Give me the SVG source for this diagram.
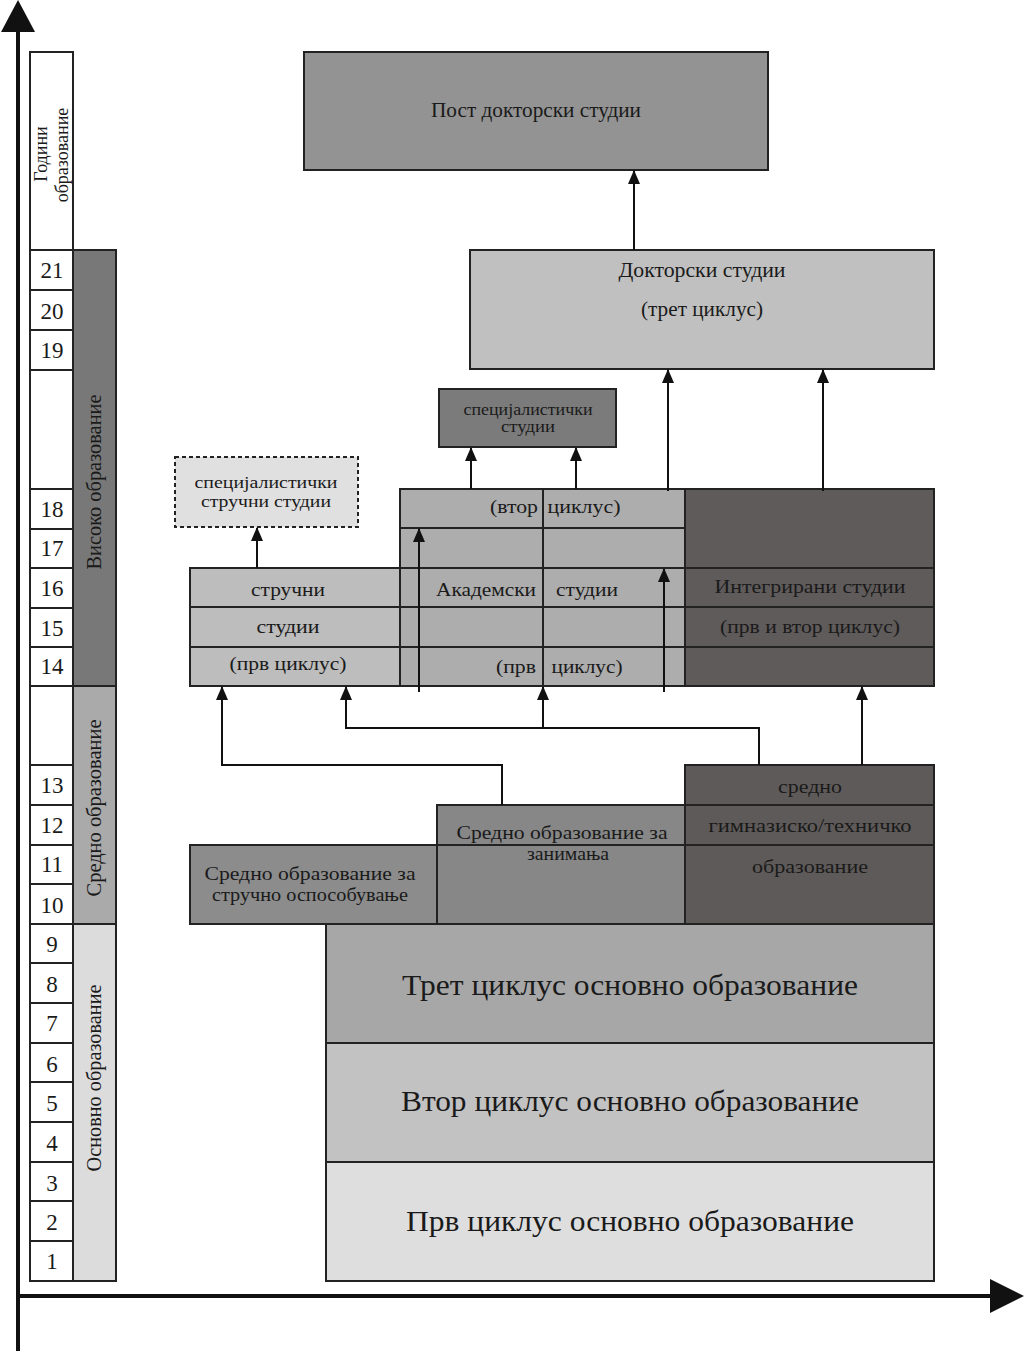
<svg xmlns="http://www.w3.org/2000/svg" width="1024" height="1351" viewBox="0 0 1024 1351">
<style>
.t{font-family:"Liberation Serif","DejaVu Serif",serif;fill:#1a1a1a;text-anchor:middle;dominant-baseline:central}
.s{stroke:#222;stroke-width:2}
.ln{stroke:#222;stroke-width:2;fill:none}
.yr{font-size:23px}
.c{stroke:#111;stroke-width:2;fill:none}
</style>
<defs>
<marker id="ah" markerUnits="userSpaceOnUse" markerWidth="14" markerHeight="12" refX="13" refY="6" orient="auto">
<path d="M0,0 L14,6 L0,12 z" fill="#111"/>
</marker>
</defs>
<rect x="0" y="0" width="1024" height="1351" fill="#fff"/>

<g id="axes">
<line x1="18" y1="1351" x2="18" y2="28" stroke="#111" stroke-width="4"/>
<polygon points="1,32 35,32 18,0" fill="#111"/>
<line x1="16" y1="1296" x2="994" y2="1296" stroke="#111" stroke-width="4"/>
<polygon points="990,1279 990,1313 1024,1296" fill="#111"/>
</g>

<g id="years">
<rect x="30" y="52" width="43" height="198" fill="#fff" class="s"/>
<text class="t" font-size="18" transform="translate(41,154) rotate(-90)">Години</text>
<text class="t" font-size="18" transform="translate(62,155) rotate(-90)">образование</text>
<rect x="30" y="250" width="43" height="40" fill="#fff" class="s"/><text class="t yr" x="52" y="270">21</text>
<rect x="30" y="290" width="43" height="40" fill="#fff" class="s"/><text class="t yr" x="52" y="311">20</text>
<rect x="30" y="330" width="43" height="40" fill="#fff" class="s"/><text class="t yr" x="52" y="350">19</text>
<rect x="30" y="370" width="43" height="119" fill="#fff" class="s"/>
<rect x="30" y="489" width="43" height="40" fill="#fff" class="s"/><text class="t yr" x="52" y="509">18</text>
<rect x="30" y="529" width="43" height="39" fill="#fff" class="s"/><text class="t yr" x="52" y="548">17</text>
<rect x="30" y="568" width="43" height="40" fill="#fff" class="s"/><text class="t yr" x="52" y="588">16</text>
<rect x="30" y="608" width="43" height="39" fill="#fff" class="s"/><text class="t yr" x="52" y="628">15</text>
<rect x="30" y="647" width="43" height="39" fill="#fff" class="s"/><text class="t yr" x="52" y="666">14</text>
<rect x="30" y="686" width="43" height="79" fill="#fff" class="s"/>
<rect x="30" y="765" width="43" height="40" fill="#fff" class="s"/><text class="t yr" x="52" y="785">13</text>
<rect x="30" y="805" width="43" height="40" fill="#fff" class="s"/><text class="t yr" x="52" y="825">12</text>
<rect x="30" y="845" width="43" height="39" fill="#fff" class="s"/><text class="t yr" x="52" y="864">11</text>
<rect x="30" y="884" width="43" height="40" fill="#fff" class="s"/><text class="t yr" x="52" y="905">10</text>
<rect x="30" y="924" width="43" height="39" fill="#fff" class="s"/><text class="t yr" x="52" y="944">9</text>
<rect x="30" y="963" width="43" height="40" fill="#fff" class="s"/><text class="t yr" x="52" y="984">8</text>
<rect x="30" y="1003" width="43" height="40" fill="#fff" class="s"/><text class="t yr" x="52" y="1023">7</text>
<rect x="30" y="1043" width="43" height="39" fill="#fff" class="s"/><text class="t yr" x="52" y="1064">6</text>
<rect x="30" y="1082" width="43" height="40" fill="#fff" class="s"/><text class="t yr" x="52" y="1103">5</text>
<rect x="30" y="1122" width="43" height="40" fill="#fff" class="s"/><text class="t yr" x="52" y="1143">4</text>
<rect x="30" y="1162" width="43" height="39" fill="#fff" class="s"/><text class="t yr" x="52" y="1183">3</text>
<rect x="30" y="1201" width="43" height="40" fill="#fff" class="s"/><text class="t yr" x="52" y="1222">2</text>
<rect x="30" y="1241" width="43" height="40" fill="#fff" class="s"/><text class="t yr" x="52" y="1261">1</text>
</g>

<g id="levels">
<rect x="73" y="250" width="43" height="436" fill="#787878" class="s"/>
<text class="t" font-size="20" transform="translate(94,482) rotate(-90)" textLength="175" lengthAdjust="spacingAndGlyphs">Високо образование</text>
<rect x="73" y="686" width="43" height="238" fill="#aaaaaa" class="s"/>
<text class="t" font-size="20" transform="translate(94,808) rotate(-90)" textLength="177" lengthAdjust="spacingAndGlyphs">Средно образование</text>
<rect x="73" y="924" width="43" height="357" fill="#dcdcdc" class="s"/>
<text class="t" font-size="20" transform="translate(94,1078) rotate(-90)" textLength="187" lengthAdjust="spacingAndGlyphs">Основно образование</text>
</g>

<g id="postdoc">
<rect x="304" y="52" width="464" height="118" fill="#939393" class="s"/>
<text class="t" font-size="20" x="536" y="110" textLength="210" lengthAdjust="spacingAndGlyphs">Пост докторски студии</text>
</g>

<g id="doktorski">
<rect x="470" y="250" width="464" height="119" fill="#c0c0c0" class="s"/>
<text class="t" font-size="20" x="702" y="270" textLength="167" lengthAdjust="spacingAndGlyphs">Докторски студии</text>
<text class="t" font-size="20" x="702" y="309" textLength="122" lengthAdjust="spacingAndGlyphs">(трет циклус)</text>
</g>

<g id="specijalisticki">
<rect x="439" y="389" width="177" height="58" fill="#7b7b7b" class="s"/>
<text class="t" font-size="16" x="528" y="409" textLength="129" lengthAdjust="spacingAndGlyphs">специјалистички</text>
<text class="t" font-size="16" x="528" y="426" textLength="54" lengthAdjust="spacingAndGlyphs">студии</text>
</g>

<g id="specijalisticki-strucni">
<rect x="175" y="457" width="183" height="70" fill="#e0e0e0" stroke="#222" stroke-width="2" stroke-dasharray="4,3"/>
<text class="t" font-size="17.5" x="266" y="482" textLength="143" lengthAdjust="spacingAndGlyphs">специјалистички</text>
<text class="t" font-size="17.5" x="266" y="501" textLength="130" lengthAdjust="spacingAndGlyphs">стручни студии</text>
</g>

<g id="strucni">
<rect x="190" y="568" width="210" height="118" fill="#bdbdbd" class="s"/>
<line x1="190" y1="607" x2="400" y2="607" class="ln"/>
<line x1="190" y1="647" x2="400" y2="647" class="ln"/>
<text class="t" font-size="19" x="288" y="589" textLength="74" lengthAdjust="spacingAndGlyphs">стручни</text>
<text class="t" font-size="19" x="288" y="626" textLength="63" lengthAdjust="spacingAndGlyphs">студии</text>
<text class="t" font-size="19" x="288" y="663" textLength="117" lengthAdjust="spacingAndGlyphs">(прв циклус)</text>
</g>

<g id="akademski">
<rect x="400" y="489" width="285" height="197" fill="#adadad" class="s"/>
<line x1="543" y1="489" x2="543" y2="686" class="ln"/>
<line x1="400" y1="528" x2="685" y2="528" class="ln"/>
<line x1="400" y1="568" x2="685" y2="568" class="ln"/>
<line x1="400" y1="607" x2="685" y2="607" class="ln"/>
<line x1="400" y1="647" x2="685" y2="647" class="ln"/>
<text class="t" font-size="19" x="514" y="506" textLength="48" lengthAdjust="spacingAndGlyphs">(втор</text>
<text class="t" font-size="19" x="584" y="506" textLength="73" lengthAdjust="spacingAndGlyphs">циклус)</text>
<text class="t" font-size="19" x="486" y="589" textLength="100" lengthAdjust="spacingAndGlyphs">Академски</text>
<text class="t" font-size="19" x="587" y="589" textLength="62" lengthAdjust="spacingAndGlyphs">студии</text>
<text class="t" font-size="19" x="516" y="666" textLength="40" lengthAdjust="spacingAndGlyphs">(прв</text>
<text class="t" font-size="19" x="587" y="666" textLength="71" lengthAdjust="spacingAndGlyphs">циклус)</text>
</g>

<g id="integrirani">
<rect x="685" y="489" width="249" height="197" fill="#5f5b5a" class="s"/>
<line x1="685" y1="568" x2="934" y2="568" class="ln"/>
<line x1="685" y1="607" x2="934" y2="607" class="ln"/>
<line x1="685" y1="647" x2="934" y2="647" class="ln"/>
<text class="t" font-size="19" x="810" y="586" textLength="191" lengthAdjust="spacingAndGlyphs">Интегрирани студии</text>
<text class="t" font-size="19" x="810" y="626" textLength="180" lengthAdjust="spacingAndGlyphs">(прв и втор циклус)</text>
</g>

<g id="strucno-osposobuvanje">
<rect x="190" y="845" width="247" height="79" fill="#8c8c8c" class="s"/>
<text class="t" font-size="19" x="310" y="873" textLength="211" lengthAdjust="spacingAndGlyphs">Средно образование за</text>
<text class="t" font-size="19" x="310" y="894" textLength="196" lengthAdjust="spacingAndGlyphs">стручно оспособување</text>
</g>

<g id="zanimanja">
<rect x="437" y="805" width="248" height="119" fill="#878787" class="s"/>
<line x1="437" y1="845" x2="685" y2="845" class="ln"/>
<text class="t" font-size="19" x="562" y="832" textLength="211" lengthAdjust="spacingAndGlyphs">Средно образование за</text>
<text class="t" font-size="19" x="568" y="853" textLength="82" lengthAdjust="spacingAndGlyphs">занимања</text>
</g>

<g id="gimnazisko">
<rect x="685" y="765" width="249" height="159" fill="#5e5a59" class="s"/>
<line x1="685" y1="805" x2="934" y2="805" class="ln"/>
<line x1="685" y1="845" x2="934" y2="845" class="ln"/>
<text class="t" font-size="19" x="810" y="786" textLength="64" lengthAdjust="spacingAndGlyphs">средно</text>
<text class="t" font-size="19" x="810" y="825" textLength="203" lengthAdjust="spacingAndGlyphs">гимназиско/техничко</text>
<text class="t" font-size="19" x="810" y="866" textLength="116" lengthAdjust="spacingAndGlyphs">образование</text>
</g>

<g id="tret-ciklus">
<rect x="326" y="924" width="608" height="119" fill="#a7a7a7" class="s"/>
<text class="t" font-size="30" x="630" y="984" textLength="456" lengthAdjust="spacingAndGlyphs">Трет циклус основно образование</text>
</g>
<g id="vtor-ciklus">
<rect x="326" y="1043" width="608" height="119" fill="#c2c2c2" class="s"/>
<text class="t" font-size="30" x="630" y="1100" textLength="458" lengthAdjust="spacingAndGlyphs">Втор циклус основно образование</text>
</g>
<g id="prv-ciklus">
<rect x="326" y="1162" width="608" height="119" fill="#dedede" class="s"/>
<text class="t" font-size="30" x="630" y="1220" textLength="448" lengthAdjust="spacingAndGlyphs">Прв циклус основно образование</text>
</g>

<g id="connectors">
<line x1="634" y1="250" x2="634" y2="171" class="c" marker-end="url(#ah)"/>
<line x1="471" y1="489" x2="471" y2="448" class="c" marker-end="url(#ah)"/>
<line x1="576" y1="489" x2="576" y2="448" class="c" marker-end="url(#ah)"/>
<line x1="668" y1="491" x2="668" y2="370" class="c" marker-end="url(#ah)"/>
<line x1="823" y1="491" x2="823" y2="370" class="c" marker-end="url(#ah)"/>
<line x1="257" y1="568" x2="257" y2="528" class="c" marker-end="url(#ah)"/>
<line x1="419" y1="692" x2="419" y2="529" class="c" marker-end="url(#ah)"/>
<line x1="664" y1="692" x2="664" y2="569" class="c" marker-end="url(#ah)"/>
<polyline points="502,805 502,765 222,765 222,687" class="c" marker-end="url(#ah)"/>
<polyline points="759,765 759,728 346,728 346,687" class="c" marker-end="url(#ah)"/>
<line x1="543" y1="728" x2="543" y2="687" class="c" marker-end="url(#ah)"/>
<line x1="862" y1="765" x2="862" y2="687" class="c" marker-end="url(#ah)"/>
</g>
</svg>
